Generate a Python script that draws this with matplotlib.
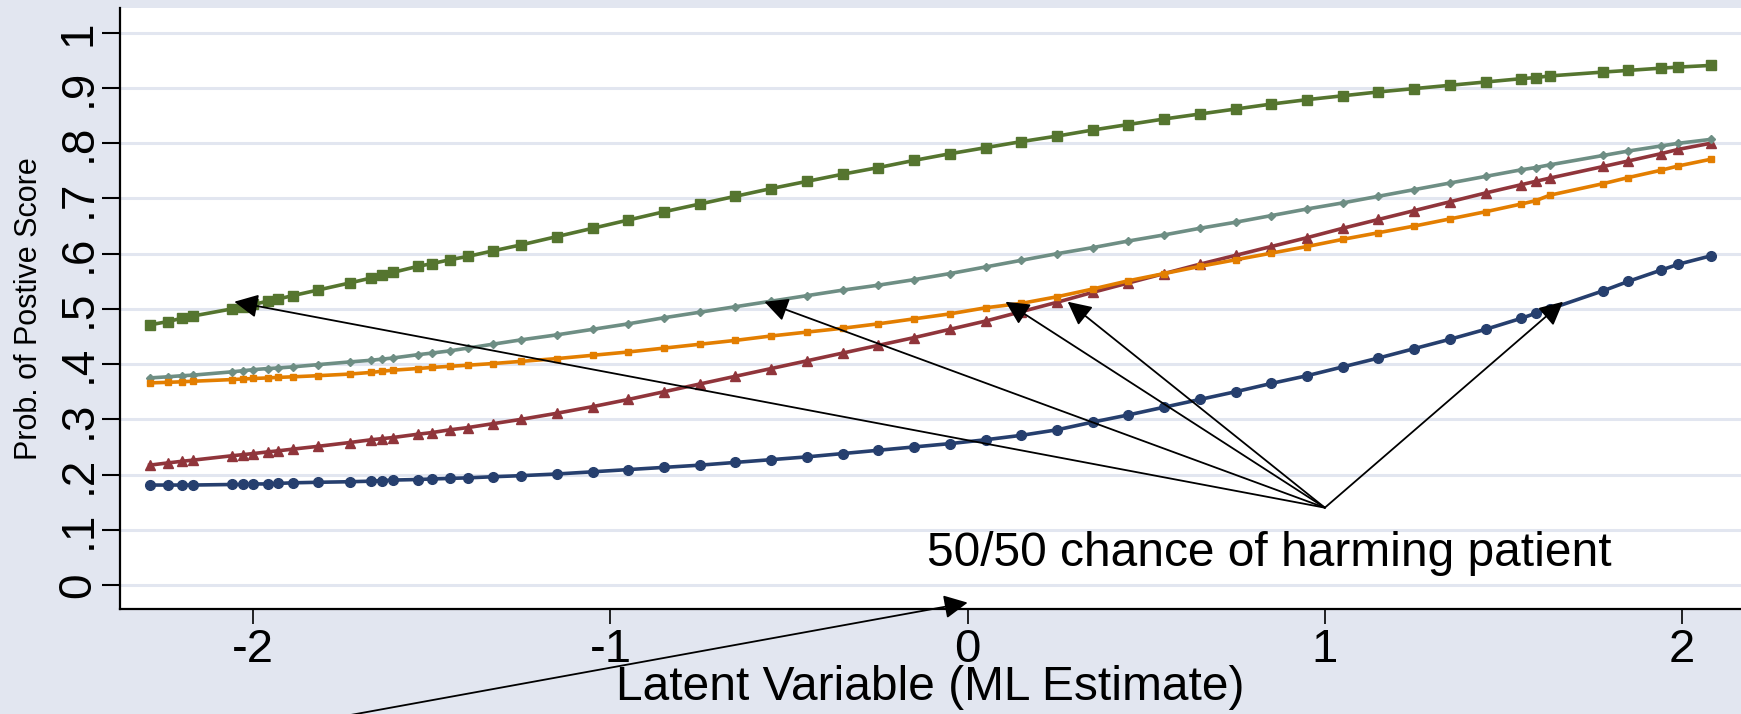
import matplotlib
matplotlib.use("Agg")
import matplotlib.pyplot as plt

plt.rcParams['font.family'] = ['Liberation Sans', 'DejaVu Sans']

# latent variable (ML estimate) values where the predictions were made
latent = [-2.29, -2.24, -2.20, -2.17, -2.06, -2.03, -2.00, -1.96, -1.93, -1.89,
          -1.82, -1.73, -1.67, -1.64, -1.61, -1.54, -1.50, -1.45, -1.40, -1.33,
          -1.25, -1.15, -1.05, -0.95, -0.85, -0.75, -0.65, -0.55, -0.45, -0.35,
          -0.25, -0.15, -0.05, 0.05, 0.15, 0.25, 0.35, 0.45, 0.55, 0.65,
          0.75, 0.85, 0.95, 1.05, 1.15, 1.25, 1.35, 1.45, 1.55, 1.59,
          1.63, 1.78, 1.85, 1.94, 1.99, 2.08]

# predicted probability of a positive score, one list per item
prob_blue = [.181, .181, .181, .181, .182, .182, .183, .183, .184, .185,
             .186, .187, .188, .189, .190, .191, .192, .193, .194, .196,
             .198, .201, .205, .209, .213, .217, .222, .227, .232, .238,
             .244, .250, .256, .263, .271, .281, .295, .308, .322, .336,
             .350, .365, .379, .395, .411, .428, .445, .463, .483, .492,
             .500, .533, .550, .570, .581, .596]
prob_red = [.217, .221, .224, .226, .234, .236, .238, .241, .243, .246,
            .251, .258, .263, .265, .267, .273, .276, .281, .285, .292,
            .300, .311, .323, .336, .350, .364, .378, .392, .406, .420,
            .434, .448, .463, .478, .495, .512, .530, .547, .564, .581,
            .597, .613, .629, .646, .662, .678, .694, .710, .725, .731,
            .737, .758, .768, .781, .789, .800]
prob_green = [.471, .477, .483, .487, .500, .504, .508, .514, .518, .524,
              .534, .547, .556, .561, .566, .577, .582, .589, .595, .605,
              .616, .631, .646, .661, .676, .690, .704, .718, .731, .744,
              .756, .769, .781, .792, .803, .813, .824, .834, .844, .853,
              .862, .871, .879, .886, .893, .899, .905, .911, .917, .919,
              .922, .929, .932, .936, .938, .941]
prob_orange = [.366, .367, .368, .369, .372, .373, .374, .375, .376, .377,
               .379, .382, .385, .387, .389, .392, .394, .396, .398, .401,
               .405, .410, .416, .422, .429, .436, .443, .451, .458, .465,
               .473, .482, .491, .502, .510, .522, .536, .551, .564, .577,
               .589, .601, .613, .626, .638, .650, .663, .676, .690, .696,
               .706, .727, .738, .751, .759, .771]
prob_teal = [.375, .377, .379, .380, .386, .388, .390, .392, .393, .395,
             .399, .404, .407, .409, .411, .417, .420, .424, .429, .436,
             .444, .453, .463, .473, .484, .494, .504, .514, .524, .534,
             .543, .553, .564, .576, .588, .600, .611, .623, .634, .646,
             .657, .669, .681, .692, .704, .716, .728, .740, .752, .756,
             .761, .778, .786, .795, .800, .807]

# where each item crosses 50/50 (arrow tips), and the note
cross_x = [-2.053, -0.569, 0.106, 0.28, 1.667]
cross_y = 0.513
note = "50/50 chance of harming patient"

bg = '#e2e6f0'
fig = plt.figure(figsize=(17.41, 7.14), dpi=100, facecolor=bg)
ax = fig.add_axes([120 / 1741, 105 / 714, 1621 / 1741, 601 / 714])
ax.set_facecolor('white')

line_kw = dict(lw=2.6, solid_joinstyle='round')
ax.plot(latent, prob_blue, color='#263f6e', marker='o', ms=7, **line_kw)
ax.plot(latent, prob_red, color='#90353b', marker='^', ms=7, **line_kw)
ax.plot(latent, prob_green, color='#55752f', marker='s', ms=7.5, **line_kw)
ax.plot(latent, prob_teal, color='#6e8e84', marker='D', ms=4.5, **line_kw)
ax.plot(latent, prob_orange, color='#e37e00', marker='s', ms=4, **line_kw)

ax.set_xlim(-2.373, 2.165)
ax.set_ylim(-0.0435, 1.045)

yt = [0, .1, .2, .3, .4, .5, .6, .7, .8, .9, 1]
ax.set_yticks(yt)
ax.set_yticklabels(['0', '.1', '.2', '.3', '.4', '.5', '.6', '.7', '.8', '.9', '1'],
                   rotation=90, va='center')
ax.set_xticks([-2, -1, 0, 1, 2])
ax.set_xticklabels(['-2', '-1', '0', '1', '2'])
ax.tick_params(axis='y', labelsize=33, length=13, width=1.5, pad=1)
ax.tick_params(axis='x', labelsize=34, length=11, width=1.2, pad=3)
ax.grid(axis='y', color=bg, lw=2.2)
ax.set_axisbelow(True)

for s in ['top', 'right']:
    ax.spines[s].set_visible(False)
for s in ['left', 'bottom']:
    ax.spines[s].set_linewidth(1.6)

ax.set_xlabel('Latent Variable (ML Estimate)', fontsize=34.5)
ax.xaxis.set_label_coords(0.5, -0.094)
ax.set_ylabel('Prob. of Postive Score', fontsize=22)
ax.yaxis.set_label_coords(-0.047, 0.5)

arrow = dict(arrowstyle='-|>', mutation_scale=36, lw=1.3, color='black',
             shrinkA=0, shrinkB=0)
for cx in cross_x:
    ax.annotate('', xy=(cx, cross_y), xytext=(1.0, 0.14), arrowprops=arrow)
ax.annotate('', xy=(0.0, -0.032), xytext=(-1.8, -0.244), arrowprops=arrow,
            annotation_clip=False)

ax.text(-0.115, 0.034, note, fontsize=34.5, ha='left', va='baseline')

fig.savefig('out.png', dpi=100, facecolor=bg)
